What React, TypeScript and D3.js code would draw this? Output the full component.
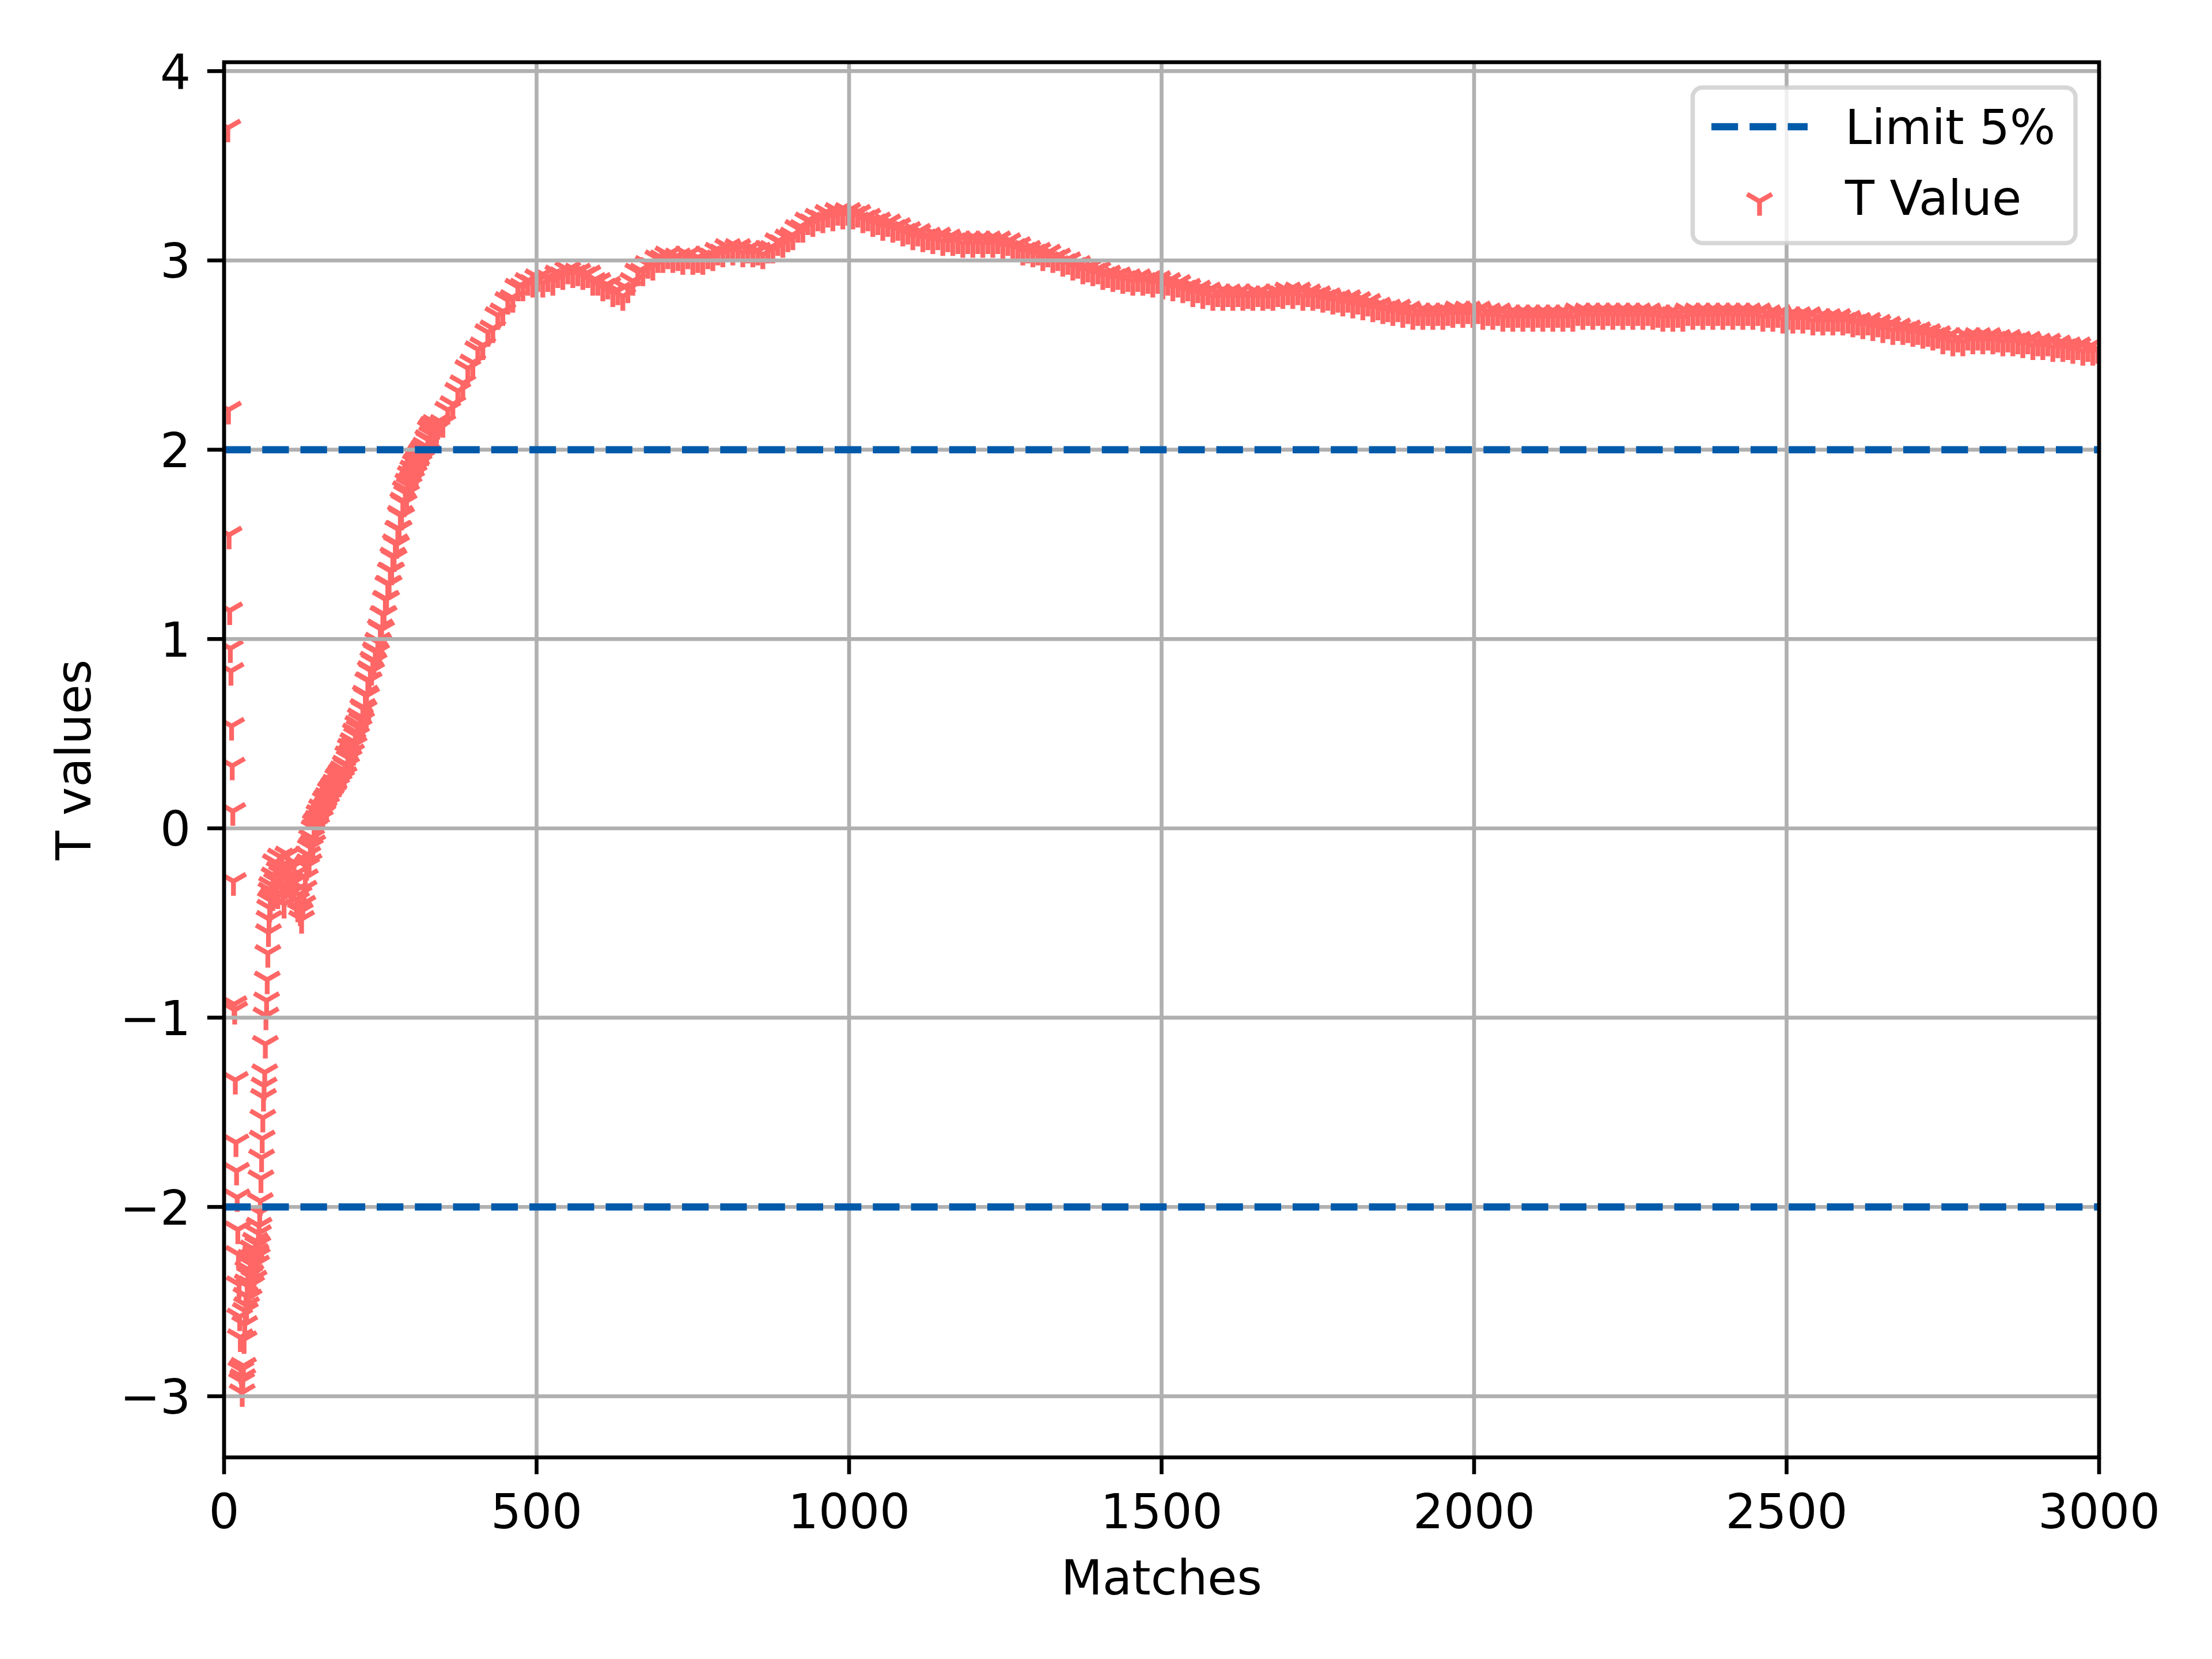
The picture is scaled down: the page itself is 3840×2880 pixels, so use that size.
import * as d3 from "d3";

// t values, in segments of equal match spacing
const earlyStart = 6; // one value per match, 6..75
const tEarly = [
  3.7, 2.21, 1.55, 1.15, 0.95, 0.83, 0.54, 0.33, 0.09, -0.28,
  -0.93, -0.96, -1.33, -1.66, -1.81, -1.95, -2.12, -2.25, -2.41, -2.58,
  -2.69, -2.86, -2.92, -2.98, -2.9, -2.84, -2.7, -2.62, -2.55, -2.47,
  -2.52, -2.4, -2.33, -2.42, -2.48, -2.36, -2.27, -2.35, -2.41, -2.3,
  -2.22, -2.31, -2.38, -2.26, -2.18, -2.24, -2.3, -2.26, -2.2, -2.14,
  -2.1, -2.03, -1.97, -1.85, -1.74, -1.64, -1.53, -1.42, -1.36, -1.29,
  -1.14, -0.99, -0.91, -0.8, -0.66, -0.55, -0.48, -0.42, -0.38, -0.33,
];

const clusterStart = 76; // every 2 matches, 76..150
const tCluster = [
  -0.3, -0.36, -0.25, -0.18, -0.28, -0.35, -0.22, -0.15, -0.24, -0.32,
  -0.4, -0.3, -0.22, -0.14, -0.2, -0.28, -0.34, -0.25, -0.18, -0.28,
  -0.38, -0.42, -0.35, -0.44, -0.48, -0.4, -0.32, -0.26, -0.2, -0.14,
  -0.18, -0.1, -0.05, -0.08, 0.0, 0.03, 0.01, 0.05,
];

const riseStart = 152; // every 2 matches, 152..340
const tRise = [
  0.08, 0.05, 0.11, 0.08, 0.1, 0.15, 0.12, 0.17, 0.15, 0.2,
  0.17, 0.22, 0.19, 0.24, 0.22, 0.27, 0.24, 0.29, 0.26, 0.31,
  0.28, 0.34, 0.33, 0.39, 0.37, 0.43, 0.4, 0.46, 0.44, 0.51,
  0.49, 0.55, 0.53, 0.59, 0.57, 0.64, 0.63, 0.71, 0.7, 0.78,
  0.78, 0.84, 0.83, 0.89, 0.88, 0.94, 0.93, 0.99, 0.98, 1.06,
  1.05, 1.13, 1.13, 1.21, 1.21, 1.29, 1.29, 1.36, 1.36, 1.44,
  1.43, 1.51, 1.5, 1.58, 1.58, 1.66, 1.65, 1.73, 1.72, 1.79,
  1.77, 1.83, 1.81, 1.87, 1.84, 1.9, 1.87, 1.93, 1.9, 1.95,
  1.93, 1.98, 1.95, 2.0, 1.97, 2.02, 1.99, 2.06, 2.05, 2.11,
  2.08, 2.13, 2.1, 2.14, 2.11,
];

const plateauStart = 342; // every 8 matches, 342..2998
const tPlateau = [
  2.13, 2.14, 2.21, 2.24, 2.31, 2.35, 2.43, 2.46, 2.53, 2.55,
  2.62, 2.64, 2.71, 2.73, 2.79, 2.8, 2.86, 2.86, 2.89, 2.88,
  2.91, 2.88, 2.91, 2.89, 2.93, 2.92, 2.95, 2.93, 2.94, 2.92,
  2.93, 2.89, 2.89, 2.86, 2.87, 2.83, 2.84, 2.81, 2.85, 2.89,
  2.94, 2.94, 2.98, 2.97, 3.01, 3.01, 3.03, 3.01, 3.02, 3.0,
  3.03, 3.0, 3.01, 3.0, 3.03, 3.02, 3.05, 3.04, 3.07, 3.05,
  3.07, 3.04, 3.06, 3.04, 3.05, 3.03, 3.06, 3.06, 3.1, 3.09,
  3.12, 3.13, 3.17, 3.17, 3.21, 3.2, 3.23, 3.22, 3.25, 3.23,
  3.26, 3.24, 3.26, 3.24, 3.25, 3.22, 3.23, 3.2, 3.21, 3.18,
  3.2, 3.17, 3.18, 3.15, 3.16, 3.13, 3.15, 3.12, 3.13, 3.11,
  3.13, 3.1, 3.12, 3.1, 3.11, 3.09, 3.11, 3.09, 3.11, 3.09,
  3.11, 3.09, 3.11, 3.08, 3.1, 3.07, 3.08, 3.05, 3.06, 3.04,
  3.05, 3.02, 3.04, 3.01, 3.02, 2.99, 3.0, 2.97, 2.98, 2.95,
  2.96, 2.94, 2.95, 2.92, 2.93, 2.91, 2.92, 2.9, 2.91, 2.89,
  2.91, 2.89, 2.9, 2.88, 2.9, 2.87, 2.89, 2.86, 2.88, 2.85,
  2.86, 2.83, 2.85, 2.82, 2.84, 2.81, 2.83, 2.81, 2.83, 2.81,
  2.83, 2.81, 2.82, 2.81, 2.83, 2.81, 2.82, 2.81, 2.83, 2.82,
  2.84, 2.82, 2.84, 2.81, 2.83, 2.81, 2.82, 2.8, 2.81, 2.79,
  2.8, 2.78, 2.8, 2.77, 2.79, 2.76, 2.78, 2.75, 2.76, 2.74,
  2.75, 2.73, 2.75, 2.72, 2.74, 2.71, 2.73, 2.71, 2.73, 2.71,
  2.73, 2.71, 2.73, 2.72, 2.74, 2.72, 2.74, 2.72, 2.74, 2.71,
  2.73, 2.71, 2.73, 2.7, 2.72, 2.7, 2.72, 2.7, 2.72, 2.7,
  2.72, 2.7, 2.72, 2.7, 2.72, 2.7, 2.72, 2.7, 2.73, 2.71,
  2.73, 2.71, 2.73, 2.71, 2.73, 2.71, 2.73, 2.71, 2.73, 2.71,
  2.73, 2.71, 2.73, 2.71, 2.72, 2.7, 2.72, 2.7, 2.72, 2.7,
  2.73, 2.71, 2.73, 2.71, 2.73, 2.71, 2.73, 2.71, 2.73, 2.71,
  2.73, 2.71, 2.73, 2.71, 2.73, 2.7, 2.72, 2.7, 2.72, 2.69,
  2.71, 2.69, 2.71, 2.69, 2.71, 2.68, 2.7, 2.68, 2.7, 2.68,
  2.7, 2.68, 2.69, 2.67, 2.68, 2.66, 2.68, 2.65, 2.67, 2.64,
  2.66, 2.63, 2.65, 2.63, 2.64, 2.62, 2.63, 2.61, 2.62, 2.6,
  2.61, 2.58, 2.6, 2.57, 2.59, 2.57, 2.6, 2.58, 2.6, 2.58,
  2.6, 2.58, 2.59, 2.57, 2.59, 2.57, 2.58, 2.56, 2.58, 2.55,
  2.57, 2.55, 2.57, 2.54, 2.56, 2.54, 2.55, 2.53, 2.55, 2.52,
  2.54, 2.52, 2.53,
];

const limitValues = [2, -2];
const xTicks = [0, 500, 1000, 1500, 2000, 2500, 3000];
const yTicks = [-3, -2, -1, 0, 1, 2, 3, 4];

const W = 3840;
const H = 2880;
const left = 389;
const right = 3644;
const top = 108;
const bottom = 2530;
const fontSize = 83.33;
const lw = 6.67;

const RED = "#ff6666";
const BLUE = "#005aaa";
const GRID = "#b0b0b0";

// matplotlib "1" (tri_down) marker
const triDown = "M0,0V25M0,0L-21.65,-12.5M0,0L21.65,-12.5";

const fmt = (v: number) => (v < 0 ? "\u2212" + Math.abs(v) : String(v));

export default function App() {
  const x = d3.scaleLinear().domain([0, 3000]).range([left, right]);
  const y = d3.scaleLinear().domain([-3.323, 4.047]).range([bottom, top]);

  const segments = [
    { start: earlyStart, step: 1, values: tEarly },
    { start: clusterStart, step: 2, values: tCluster },
    { start: riseStart, step: 2, values: tRise },
    { start: plateauStart, step: 8, values: tPlateau },
  ];
  const points = segments.flatMap((s) =>
    s.values.map((v, i) => ({ match: s.start + i * s.step, t: v }))
  );

  return (
    <svg
      width={W}
      height={H}
      viewBox={`0 0 ${W} ${H}`}
      style={{ position: "absolute", left: 0, top: 0, background: "#fff" }}
      fontFamily="DejaVu Sans"
    >
      <defs>
        <clipPath id="plot">
          <rect x={left} y={top} width={right - left} height={bottom - top} />
        </clipPath>
      </defs>
      <rect width={W} height={H} fill="#fff" />

      {/* scatter sits under the grid, as in matplotlib */}
      <g clipPath="url(#plot)" stroke={RED} strokeWidth={8.33} fill="none">
        {points.map((p, i) => (
          <path key={i} d={triDown} transform={`translate(${x(p.match)},${y(p.t)})`} />
        ))}
      </g>

      <g stroke={GRID} strokeWidth={lw}>
        {xTicks.map((t) => (
          <line key={"gx" + t} x1={x(t)} x2={x(t)} y1={top} y2={bottom} />
        ))}
        {yTicks.map((t) => (
          <line key={"gy" + t} x1={left} x2={right} y1={y(t)} y2={y(t)} />
        ))}
      </g>

      <g clipPath="url(#plot)" stroke={BLUE} strokeWidth={12.5} strokeDasharray="46.25 20">
        {limitValues.map((v) => (
          <line key={v} x1={x(0)} x2={x(3000)} y1={y(v)} y2={y(v)} />
        ))}
      </g>

      {/* spines and ticks */}
      <rect
        x={left}
        y={top}
        width={right - left}
        height={bottom - top}
        fill="none"
        stroke="#000"
        strokeWidth={lw}
      />
      <g stroke="#000" strokeWidth={lw}>
        {xTicks.map((t) => (
          <line key={"tx" + t} x1={x(t)} x2={x(t)} y1={bottom} y2={bottom + 29.2} />
        ))}
        {yTicks.map((t) => (
          <line key={"ty" + t} x1={left - 29.2} x2={left} y1={y(t)} y2={y(t)} />
        ))}
      </g>

      <g fontSize={fontSize} fill="#000">
        {xTicks.map((t) => (
          <text key={"lx" + t} x={x(t)} y={2653} textAnchor="middle">
            {t}
          </text>
        ))}
        {yTicks.map((t) => (
          <text key={"ly" + t} x={331} y={y(t) + 30.4} textAnchor="end">
            {fmt(t)}
          </text>
        ))}
        <text x={(left + right) / 2} y={2768} textAnchor="middle">
          Matches
        </text>
        <text
          transform={`translate(157,${(top + bottom) / 2}) rotate(-90)`}
          textAnchor="middle"
        >
          T values
        </text>
      </g>

      {/* legend */}
      <g>
        <rect
          x={2938.5}
          y={152}
          width={664.5}
          height={270}
          rx={16.7}
          fill="#fff"
          fillOpacity={0.8}
          stroke="#cccccc"
          strokeOpacity={0.8}
          strokeWidth={7.5}
        />
        <line
          x1={2971}
          x2={3138}
          y1={220}
          y2={220}
          stroke={BLUE}
          strokeWidth={12.5}
          strokeDasharray="46.25 20"
        />
        <path
          d={triDown}
          transform="translate(3054.5,349.5)"
          stroke={RED}
          strokeWidth={8.33}
          fill="none"
        />
        <text x={3203} y={250} fontSize={fontSize}>
          Limit 5%
        </text>
        <text x={3203} y={373} fontSize={fontSize}>
          T Value
        </text>
      </g>
    </svg>
  );
}
